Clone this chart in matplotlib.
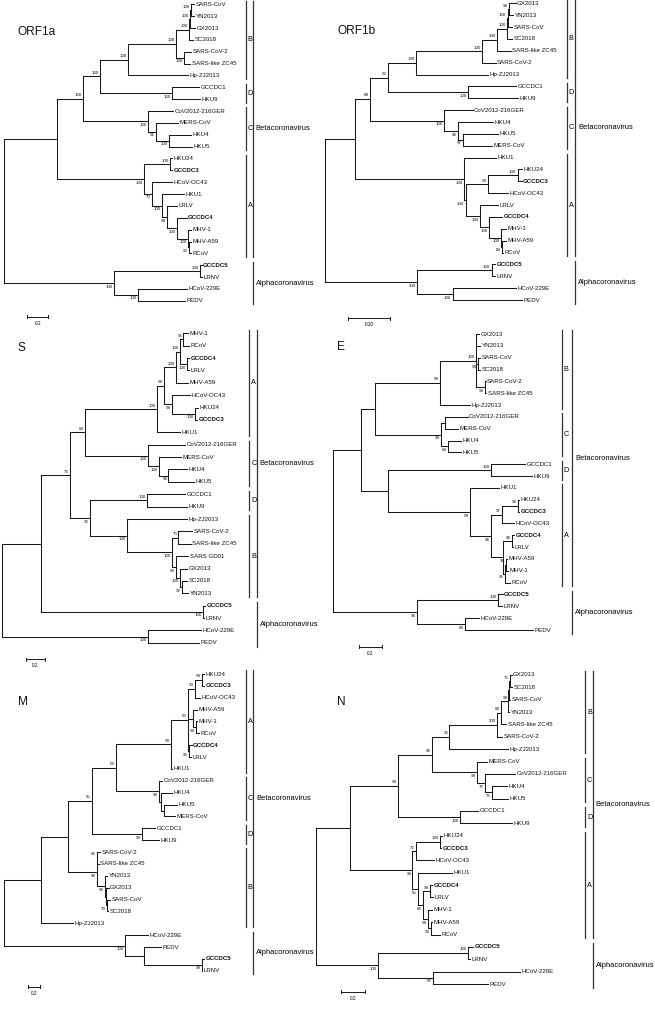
import matplotlib
matplotlib.use("Agg")
import matplotlib.pyplot as plt

plt.rcParams["font.family"] = ["Liberation Sans", "DejaVu Sans"]

# Trees in Newick form. Inner labels are bootstrap values; the number after
# each ":" is the node's distance from the root (substitutions per site),
# read off against the scale bar of each panel.
orf1a_tree = ("(((((((((SARS-CoV:1.810,YN2013:1.810)100:1.778,GX2013:1.819)100:1.769,SC2018:1.803)100:1.759,"
              "(SARS-CoV-2:1.784,SARS-like ZC45:1.775)100:1.717)100:1.635,Hp-ZJ2013:1.749)100:1.184,"
              "(GCCDC1:1.860,HKU9:1.867)100:1.603)100:0.914,(CoV2012-216GER:1.612,(MERS-CoV:1.660,"
              "(HKU4:1.778,HKU5:1.788)100:1.574)91:1.448)100:1.374)100:0.750,((HKU24:1.603,GCCDC3:1.603)100:1.581,"
              "(HCoV-OC43:1.603,(HKU1:1.717,(LRLV:1.650,(GCCDC4:1.740,(MHV-1:1.784,(MHV-A59:1.784,RCoV:1.784)92:1.762)"
              "100:1.750)100:1.645)99:1.550)100:1.508)70:1.407)100:1.333):0.502,((GCCDC5:1.883,LRNV:1.883)100:1.867,"
              "(HCoV-229E:1.746,PEDV:1.724)100:1.273)100:1.050)")

orf1b_tree = ("((((((((((GX2013:0.894,YN2013:0.883)98:0.863,SARS-CoV:0.878)100:0.856,SC2018:0.878)100:0.852,"
              "SARS-like ZC45:0.870)100:0.805,SARS-CoV-2:0.800)100:0.738,Hp-ZJ2013:0.766)100:0.427,"
              "(GCCDC1:0.895,HKU9:0.906)100:0.672)92:0.297,(CoV2012-216GER:0.692,(HKU4:0.786,(HKU5:0.813,"
              "MERS-CoV:0.781)97:0.648)96:0.622)100:0.559)68:0.211,(HKU1:0.800,(((HKU24:0.922,GCCDC3:0.922)100:0.903,"
              "HCoV-OC43:0.856)99:0.763,(LRLV:0.809,(GCCDC4:0.831,(MHV-1:0.848,(MHV-A59:0.848,RCoV:0.836)83:0.831)"
              "100:0.825)100:0.769)100:0.727)100:0.659)100:0.653):0.141,((GCCDC5:0.797,LRNV:0.797)100:0.781,"
              "(HCoV-229E:0.895,PEDV:0.922)100:0.598)100:0.430)")

s_tree = ("(((((((((MHV-1:1.931,RCoV:1.938)95:1.879,(GCCDC4:1.938,LRLV:1.938)100:1.921)100:1.845,MHV-A59:1.924)"
          "100:1.800,(HCoV-OC43:1.948,(HKU24:2.028,GCCDC3:2.017)100:2.000)99:1.759)99:1.679,HKU1:1.845)100:1.610,"
          "(CoV2012-216GER:1.897,(MERS-CoV:1.855,(HKU4:1.914,HKU5:1.990)98:1.724)100:1.631)100:1.517)64:0.862,"
          "((GCCDC1:1.897,HKU9:1.914)100:1.507,(Hp-ZJ2013:1.914,((SARS-CoV-2:1.966,SARS-like ZC45:1.955)70:1.828,"
          "(SARS GD01:1.931,(GX2013:1.914,(SC2018:1.921,YN2013:1.931)92:1.862)100:1.845)99:1.800)100:1.759)"
          "100:1.300)92:0.914)73:0.707,(GCCDC5:2.103,LRNV:2.093)100:2.079):0.403,"
          "(HCoV-229E:2.062,PEDV:2.045)100:1.517)")

e_tree = ("(((((GX2013:1.285,YN2013:1.294,(SARS-CoV:1.297,SC2018:1.297)99:1.279,(SARS-CoV-2:1.344,"
          "SARS-like ZC45:1.350)99:1.338)100:1.259,Hp-ZJ2013:1.209)99:0.941,((CoV2012-216GER:1.185,"
          "MERS-CoV:1.103):0.985,(HKU4:1.126,HKU5:1.126)64:1.015)99:0.950):0.368,((GCCDC1:1.691,HKU9:1.756)"
          "100:1.391,(HKU1:1.462,(((HKU24:1.638,GCCDC3:1.638)98:1.626,HCoV-OC43:1.597)97:1.491,"
          "((GCCDC4:1.594,LRLV:1.588)96:1.574,((MHV-A59:1.535,MHV-1:1.544)98:1.524,RCoV:1.559)95:1.515):1.500)"
          "96:1.388)99:1.206):0.485):0.241,((GCCDC5:1.494,LRNV:1.485)100:1.456,"
          "(HCoV-229E:1.288,PEDV:1.759)89:1.162)94:0.735)")

m_tree = ("(((((((((HKU24:3.333,GCCDC3:3.333)99:3.294,HCoV-OC43:3.267)93:3.183,(MHV-A59:3.211,(MHV-1:3.211,"
          "RCoV:3.256)99:3.200):3.156,(GCCDC4:3.128,LRLV:3.111)95:3.089)90:3.072,HKU1:2.806)99:2.778,"
          "(CoV2012-216GER:2.639,(HKU4:2.806,(HKU5:2.889,MERS-CoV:2.850):2.672):2.611)98:2.589)54:1.867,"
          "(GCCDC1:2.517,HKU9:2.589)99:2.294)55:1.461,((SARS-CoV-2:1.600,SARS-like ZC45:1.578)66:1.556,"
          "(YN2013:1.722,(GX2013:1.744,(SARS-CoV:1.767,SC2018:1.733)79:1.711):1.700)98:1.689)98:1.544):1.072,"
          "Hp-ZJ2013:1.156):0.611,(HCoV-229E:2.406,(PEDV:2.617,(GCCDC5:3.333,LRNV:3.306)98:3.294):2.333)100:2.017)")

n_tree = ("((((((((((GX2013:1.608,SC2018:1.608)76:1.592,SARS-CoV:1.595):1.584,YN2013:1.589)98:1.581,"
          "SARS-like ZC45:1.562)68:1.518,SARS-CoV-2:1.526)100:1.485,Hp-ZJ2013:1.575)95:1.096,(MERS-CoV:1.408,"
          "(CoV2012-216GER:1.636,(HKU4:1.567,HKU5:1.575)76:1.444)72:1.389)99:1.326)96:0.951,(GCCDC1:1.334,"
          "HKU9:1.608)100:1.184)99:0.671,(((HKU24:1.033,GCCDC3:1.027)100:1.019,HCoV-OC43:0.967)72:0.819,"
          "(HKU1:1.115,((GCCDC4:0.951,LRLV:0.964)99:0.937,(MHV-1:0.951,(MHV-A59:0.956,RCoV:1.019)93:0.945)"
          "99:0.923)66:0.882)55:0.836)98:0.792):0.279,((GCCDC5:1.288,LRNV:1.266)100:1.247,"
          "(HCoV-229E:1.677,PEDV:1.416)97:0.959)100:0.512)")

# clade letters: (label, first taxon, last taxon)
orf1a_clades = [("B", "SARS-CoV", "Hp-ZJ2013"), ("D", "GCCDC1", "HKU9"),
                ("C", "CoV2012-216GER", "HKU5"), ("A", "HKU24", "RCoV")]
orf1b_clades = [("B", "GX2013", "Hp-ZJ2013"), ("D", "GCCDC1", "HKU9"),
                ("C", "CoV2012-216GER", "MERS-CoV"), ("A", "HKU1", "RCoV")]
s_clades = [("A", "MHV-1", "HKU1"), ("C", "CoV2012-216GER", "HKU5"),
            ("D", "GCCDC1", "HKU9"), ("B", "Hp-ZJ2013", "YN2013")]
e_clades = [("B", "GX2013", "Hp-ZJ2013"), ("C", "CoV2012-216GER", "HKU5"),
            ("D", "GCCDC1", "HKU9"), ("A", "HKU1", "RCoV")]
m_clades = [("A", "HKU24", "HKU1"), ("C", "CoV2012-216GER", "MERS-CoV"),
            ("D", "GCCDC1", "HKU9"), ("B", "SARS-CoV-2", "Hp-ZJ2013")]
n_clades = [("B", "GX2013", "Hp-ZJ2013"), ("C", "MERS-CoV", "HKU5"),
            ("D", "GCCDC1", "HKU9"), ("A", "HKU24", "RCoV")]

# genera: (label, first taxon, last taxon)
orf1a_genera = [("Betacoronavirus", "SARS-CoV", "RCoV"), ("Alphacoronavirus", "GCCDC5", "PEDV")]
orf1b_genera = [("Betacoronavirus", "GX2013", "RCoV"), ("Alphacoronavirus", "GCCDC5", "PEDV")]
s_genera = [("Betacoronavirus", "MHV-1", "YN2013"), ("Alphacoronavirus", "GCCDC5", "PEDV")]
e_genera = [("Betacoronavirus", "GX2013", "RCoV"), ("Alphacoronavirus", "GCCDC5", "PEDV")]
m_genera = [("Betacoronavirus", "HKU24", "Hp-ZJ2013"), ("Alphacoronavirus", "HCoV-229E", "LRNV")]
n_genera = [("Betacoronavirus", "GX2013", "RCoV"), ("Alphacoronavirus", "GCCDC5", "PEDV")]

scale_labels = ["0.2", "0.20", "0.2", "0.2", "0.2", "0.2"]
bold_taxa = ["GCCDC3", "GCCDC4", "GCCDC5"]

W, H = 655, 1010
INK = "#1a1a1a"

# page layout in pixels: panel box, root x, first tip y, tip spacing,
# pixels per substitution, clade bar x, genus bar x, title and scale bar spots
panels = [
    dict(title="ORF1a", tree=orf1a_tree, clades=orf1a_clades, genera=orf1a_genera,
         box=(0, 0, 327, 330), root_x=4, y0=4.3, dy=11.86, ppu=105.0,
         bar_x=245.7, genus_x=252.7, title_xy=(18, 32), scale_xy=(27.3, 316.7)),
    dict(title="ORF1b", tree=orf1b_tree, clades=orf1b_clades, genera=orf1b_genera,
         box=(327, 0, 655, 330), root_x=325, y0=3.3, dy=11.87, ppu=213.3,
         bar_x=566.7, genus_x=575, title_xy=(337, 30.7), scale_xy=(347.7, 318.3)),
    dict(title="S", tree=s_tree, clades=s_clades, genera=s_genera,
         box=(0, 330, 327, 665), root_x=1.7, y0=333.3, dy=12.38, ppu=96.7,
         bar_x=249.3, genus_x=256.7, title_xy=(18, 348), scale_xy=(25.7, 659.3)),
    dict(title="E", tree=e_tree, clades=e_clades, genera=e_genera,
         box=(327, 330, 655, 665), root_x=333.3, y0=334, dy=11.84, ppu=113.3,
         bar_x=561.7, genus_x=572.3, title_xy=(337.5, 347.3), scale_xy=(359, 646.7)),
    dict(title="M", tree=m_tree, clades=m_clades, genera=m_genera,
         box=(0, 665, 327, 1010), root_x=4, y0=674, dy=11.87, ppu=60.0,
         bar_x=245.7, genus_x=253.3, title_xy=(18, 701.7), scale_xy=(28.3, 986.7)),
    dict(title="N", tree=n_tree, clades=n_clades, genera=n_genera,
         box=(327, 665, 655, 1010), root_x=316, y0=675, dy=12.36, ppu=121.7,
         bar_x=585, genus_x=592.7, title_xy=(337.5, 701.7), scale_xy=(340.7, 991.7)),
]


def parse_newick(text):
    s = text.strip().rstrip(";")
    pos = 0

    def node():
        nonlocal pos
        kids = []
        if s[pos] == "(":
            pos += 1
            kids.append(node())
            while s[pos] == ",":
                pos += 1
                kids.append(node())
            pos += 1
        start = pos
        while pos < len(s) and s[pos] not in ",():":
            pos += 1
        name = s[start:pos].strip()
        depth = 0.0
        if pos < len(s) and s[pos] == ":":
            pos += 1
            start = pos
            while pos < len(s) and s[pos] not in ",()":
                pos += 1
            depth = float(s[start:pos])
        return {"name": name, "depth": depth, "kids": kids}

    return node()


def place(node, tips):
    if not node["kids"]:
        node["y"] = len(tips)
        tips.append(node)
    else:
        for k in node["kids"]:
            place(k, tips)
        node["y"] = (node["kids"][0]["y"] + node["kids"][-1]["y"]) / 2


def draw(ax, node):
    if not node["kids"]:
        bold = node["name"] in bold_taxa
        ax.annotate(node["name"], (node["depth"], node["y"]), xytext=(1.1, 0),
                    textcoords="offset points", ha="left", va="center",
                    fontsize=4.4, fontweight="bold" if bold else "normal",
                    color="#111111", annotation_clip=False)
        return
    ax.plot([node["depth"], node["depth"]], [node["kids"][0]["y"], node["kids"][-1]["y"]],
            color=INK, lw=0.75, clip_on=False)
    for i, k in enumerate(node["kids"]):
        ax.plot([node["depth"], k["depth"]], [k["y"], k["y"]], color=INK, lw=0.75, clip_on=False)
        if k["kids"] and k["name"]:
            off = 2.6 if i == 0 else -2.6
            ax.annotate(k["name"], (k["depth"], k["y"]), xytext=(-0.9, off),
                        textcoords="offset points", ha="right", va="center",
                        fontsize=3.2, color="#111111", annotation_clip=False)
        draw(ax, k)


fig = plt.figure(figsize=(W / 100, H / 100), dpi=100)
fig.patch.set_facecolor("white")

for p, scale_text in zip(panels, scale_labels):
    x0, ya, x1, yb = p["box"]
    ax = fig.add_axes([x0 / W, 1 - yb / H, (x1 - x0) / W, (yb - ya) / H])
    ax.set_xlim((x0 - p["root_x"]) / p["ppu"], (x1 - p["root_x"]) / p["ppu"])
    ax.set_ylim((yb - p["y0"]) / p["dy"], (ya - p["y0"]) / p["dy"])
    ax.axis("off")

    def px_x(v, p=p):
        return (v - p["root_x"]) / p["ppu"]

    def px_y(v, p=p):
        return (v - p["y0"]) / p["dy"]

    root = parse_newick(p["tree"])
    tips = []
    place(root, tips)
    index = {t["name"]: t["y"] for t in tips}
    draw(ax, root)

    bx = px_x(p["bar_x"])
    for letter, first, last in p["clades"]:
        top, bot = index[first] - 0.3, index[last] + 0.3
        ax.plot([bx, bx], [top, bot], color="#333333", lw=0.9, clip_on=False)
        ax.annotate(letter, (bx, (top + bot) / 2), xytext=(1.5, 0), textcoords="offset points",
                    ha="left", va="center", fontsize=5.2, annotation_clip=False)

    gx = px_x(p["genus_x"])
    for genus, first, last in p["genera"]:
        top, bot = index[first] - 0.3, index[last] + 0.3
        ax.plot([gx, gx], [top, bot], color="#333333", lw=0.9, clip_on=False)
        ax.annotate(genus, (gx, (top + bot) / 2), xytext=(2.2, 0), textcoords="offset points",
                    ha="left", va="center", fontsize=5.4, annotation_clip=False)

    length = float(scale_text)
    sx, sy = px_x(p["scale_xy"][0]), px_y(p["scale_xy"][1])
    ax.plot([sx, sx + length], [sy, sy], color=INK, lw=0.7, clip_on=False)
    for ex in (sx, sx + length):
        ax.plot([ex, ex], [sy - 0.13, sy + 0.13], color=INK, lw=0.7, clip_on=False)
    ax.annotate(scale_text, (sx + length / 2, sy), xytext=(0, -3.0), textcoords="offset points",
                ha="center", va="top", fontsize=3.4, annotation_clip=False)

    tx, ty = p["title_xy"]
    fig.text(tx / W, 1 - ty / H, p["title"], fontsize=8.6, ha="left", va="center", color="#111111")

fig.savefig("out.png", dpi=100, facecolor="white")
